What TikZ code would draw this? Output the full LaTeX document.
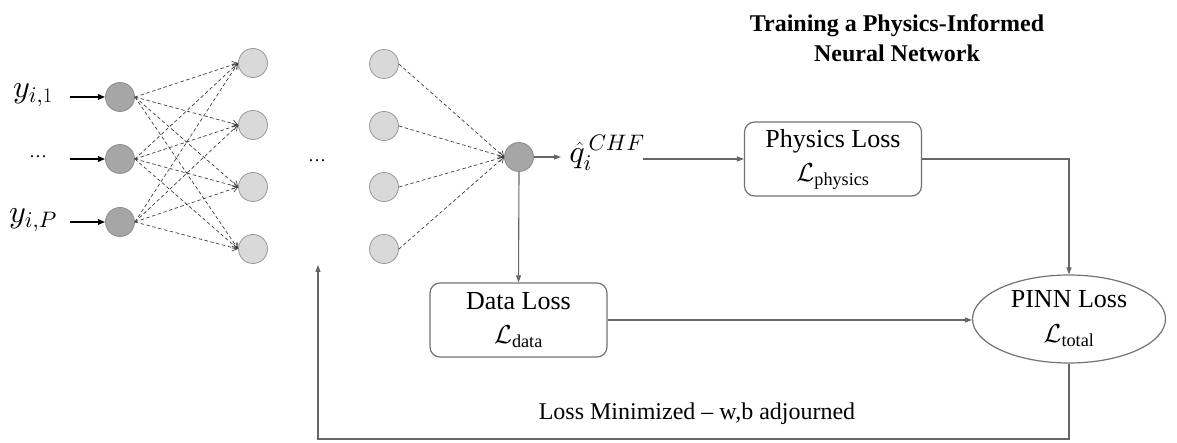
\documentclass[tikz,border=0pt]{standalone}
\usepackage{fontspec}
\setmainfont{Liberation Serif}
% make the Computer Modern math fonts scale freely to any size
\DeclareFontShape{OML}{cmm}{m}{it}{<-> cmmi10}{\skewchar\font'177}
\DeclareFontShape{OMS}{cmsy}{m}{n}{<-> cmsy10}{\skewchar\font'60}
\DeclareFontShape{OMX}{cmex}{m}{n}{<-> cmex10}{}
\usetikzlibrary{arrows.meta,shapes.geometric}
\begin{document}
\begin{tikzpicture}[x=1pt,y=-1pt,
  neuronin/.style={circle,draw=black!45,fill=black!35,line width=0.8pt,minimum size=29pt,inner sep=0pt},
  neuronhid/.style={circle,draw=black!40,fill=black!15,line width=0.8pt,minimum size=29pt,inner sep=0pt},
  weight/.style={draw=black!75,line width=0.7pt,dash pattern=on 3.5pt off 2.5pt,-{Straight Barb[length=5pt,width=7pt]}},
  feed/.style={draw=black,line width=1.4pt,-{Triangle[length=7pt,width=5.5pt]}},
  flow/.style={draw=black!60,line width=1.1pt,-{Triangle[length=7pt,width=5pt]}},
  lossbox/.style={draw=black!55,rounded corners=10pt,line width=1.2pt,minimum width=177pt,minimum height=74pt,inner sep=0pt,align=center,font=\fontsize{26}{34}\selectfont},
  pinnbox/.style={ellipse,draw=black!55,line width=1.2pt,minimum width=193pt,minimum height=88pt,inner sep=0pt,align=center,font=\fontsize{26}{35}\selectfont},
  inlabel/.style={font=\fontsize{32}{36}\selectfont,inner sep=0pt}
]
\useasboundingbox (0,0) rectangle (1177,443);

% title
\node[align=center,font=\fontsize{24}{30}\selectfont\bfseries] (title) at (897,38)
  {Training a Physics-Informed\\Neural Network};

% input layer
\node[neuronin] (in1) at (120,97) {};
\node[neuronin] (in2) at (120,159) {};
\node[neuronin] (in3) at (120,222) {};

\node[inlabel] (y1) at (33,95) {$y_{i,1}$};
\node[font=\fontsize{18}{20}\selectfont] (ydots) at (38,157) {…};
\node[inlabel] (yP) at (33,220) {$y_{i,P}$};

\coordinate (s1) at (70,97);
\coordinate (s2) at (70,159);
\coordinate (s3) at (70,222);
\draw[feed] (s1) -- (in1.west);
\draw[feed] (s2) -- (in2.west);
\draw[feed] (s3) -- (in3.west);

% first hidden layer
\node[neuronhid] (ha1) at (253,63) {};
\node[neuronhid] (ha2) at (253,125) {};
\node[neuronhid] (ha3) at (253,187) {};
\node[neuronhid] (ha4) at (253,249) {};

\foreach \i in {1,2,3}
  \foreach \j in {1,2,3,4}
    \draw[weight] (in\i.east) -- (ha\j.west);

\node[font=\fontsize{18}{20}\selectfont] (hdots) at (317,161) {…};

% last hidden layer
\node[neuronhid] (hb1) at (384,64) {};
\node[neuronhid] (hb2) at (384,126) {};
\node[neuronhid] (hb3) at (384,187) {};
\node[neuronhid] (hb4) at (384,249) {};

% output neuron
\node[neuronin] (out) at (519,157) {};
\foreach \j in {1,2,3,4}
  \draw[weight] (hb\j.east) -- (out.west);

\node[inlabel] (qhat) at (607,153) {$\hat{q}_i^{\,CHF}$};
\coordinate (qin) at (561,157);
\draw[flow] (out.east) -- (qin);

% loss terms
\node[lossbox] (phys) at (833,159) {Physics Loss\\$\mathcal{L}_{\mathrm{physics}}$};
\node[lossbox] (data) at (518.5,320) {Data Loss\\$\mathcal{L}_{\mathrm{data}}$};
\node[pinnbox] (pinn) at (1069,319) {PINN Loss\\$\mathcal{L}_{\mathrm{total}}$};

\coordinate (qout) at (643,159);
\draw[flow] (qout) -- (phys.west);
\draw[flow] (out.south) -- (data.north);
\draw[flow] (phys.east) -| (pinn.north);
\draw[flow] (data.east) -- (pinn.west |- data.east);

% back-propagation loop
\coordinate (c1) at (1069,439);
\coordinate (fb) at (318,265);
\draw[flow] (pinn.south) -- (c1) -| (fb);
\node[font=\fontsize{24}{28}\selectfont] (upd) at (697,414) {Loss Minimized – w,b adjourned};
\end{tikzpicture}
\end{document}
